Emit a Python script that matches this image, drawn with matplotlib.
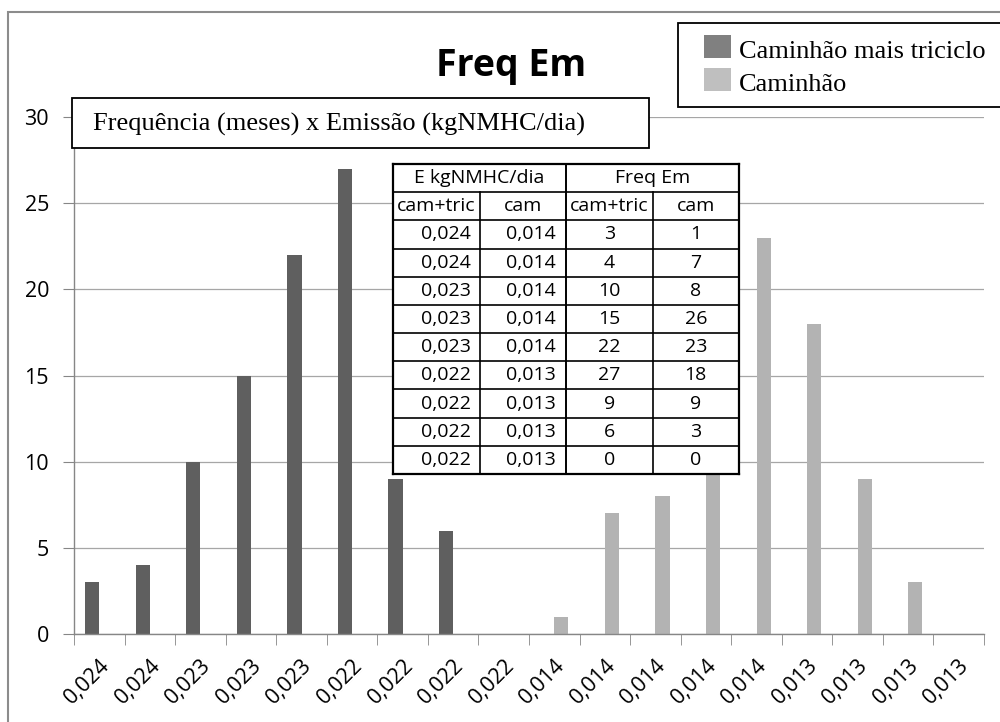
import matplotlib.pyplot as plt
from matplotlib.patches import Rectangle

# data (and its embedded table)
emis_camtric = ["0,024", "0,024", "0,023", "0,023", "0,023", "0,022", "0,022", "0,022", "0,022"]
emis_cam = ["0,014", "0,014", "0,014", "0,014", "0,014", "0,013", "0,013", "0,013", "0,013"]
freq_camtric = [3, 4, 10, 15, 22, 27, 9, 6, 0]
freq_cam = [1, 7, 8, 26, 23, 18, 9, 3, 0]
series_names = ["Caminhão mais triciclo", "Caminhão"]

x_labels = emis_camtric + emis_cam

W, H = 1000, 722


def fx(px):
    return px / W


def fy(py):
    return 1 - py / H


fig = plt.figure(figsize=(W / 100, H / 100), dpi=100)
fig.patch.set_facecolor("white")

# main plot area
ax = fig.add_axes([fx(74), fy(634), fx(984) - fx(74), fy(117) - fy(634)])
n = len(x_labels)
dark_x = [i - 0.14 for i in range(len(freq_camtric))]
light_x = [len(freq_camtric) + i + 0.14 for i in range(len(freq_cam))]
ax.bar(dark_x, freq_camtric, width=0.28, color="#5f5f5f", zorder=2)
ax.bar(light_x, freq_cam, width=0.28, color="#b3b3b3", zorder=2)

ax.set_xlim(-0.5, n - 0.5)
ax.set_ylim(0, 30)
ax.set_yticks(range(0, 31, 5))
ax.set_xticks(range(n))
ax.set_xticklabels(x_labels, rotation=45, ha="right", rotation_mode="anchor",
                   fontsize=15.5, family="Open Sans")
ax.set_xticks([i - 0.5 for i in range(n + 1)], minor=True)
ax.tick_params(axis="x", which="major", length=0, pad=15)
ax.tick_params(axis="x", which="minor", length=8, color="#868686", direction="out")
ax.tick_params(axis="y", length=8, color="#868686", direction="out", pad=10)
for lab in ax.get_yticklabels():
    lab.set_fontsize(15.5)
    lab.set_family("Open Sans")
ax.yaxis.grid(True, color="#a6a6a6", lw=0.9)
ax.set_axisbelow(True)
for s in ["top", "right"]:
    ax.spines[s].set_visible(False)
for s in ["left", "bottom"]:
    ax.spines[s].set_color("#868686")
    ax.spines[s].set_linewidth(1.0)

# outer chart border (cut off at right/bottom)
fig.patches.append(Rectangle((fx(8), fy(730)), fx(1010) - fx(8), fy(12) - fy(730),
                             transform=fig.transFigure, fill=False,
                             edgecolor="#8c8c8c", lw=1.5, clip_on=False))

# title
fig.text(fx(511), fy(76), "Freq Em", ha="center", va="baseline",
         fontsize=27, fontweight="bold", family="Open Sans")

# subtitle box
fig.patches.append(Rectangle((fx(72), fy(148)), fx(649) - fx(72), fy(98) - fy(148),
                             transform=fig.transFigure, facecolor="white",
                             edgecolor="black", lw=1.3, zorder=2))
fig.text(fx(93), fy(131), "Frequência (meses) x Emissão (kgNMHC/dia)",
         ha="left", va="baseline", fontsize=19, family="Liberation Serif", zorder=3)

# legend box
fig.patches.append(Rectangle((fx(678), fy(107)), fx(1010) - fx(678), fy(23) - fy(107),
                             transform=fig.transFigure, facecolor="white",
                             edgecolor="black", lw=1.3, zorder=2, clip_on=False))
leg_colors = ["#808080", "#bfbfbf"]
leg_base = [58, 91]
for name, col, yb in zip(series_names, leg_colors, leg_base):
    fig.patches.append(Rectangle((fx(704), fy(yb)), fx(731) - fx(704), fy(yb - 23) - fy(yb),
                                 transform=fig.transFigure, facecolor=col,
                                 edgecolor="none", zorder=3))
    fig.text(fx(739), fy(yb), name, ha="left", va="baseline",
             fontsize=19, family="Liberation Serif", zorder=4)

# embedded table
tab = fig.add_axes([fx(393), fy(474), fx(739) - fx(393), fy(164) - fy(474)], zorder=3)
nrows = 2 + len(freq_camtric)
tab.set_xlim(0, 4)
tab.set_ylim(nrows, 0)
tab.set_xticks([])
tab.set_yticks([])
tab.set_facecolor("white")
for s in tab.spines.values():
    s.set_color("black")
    s.set_linewidth(1.6)
for r in range(1, nrows):
    tab.plot([0, 4], [r, r], color="black", lw=1.2)
tab.plot([2, 2], [0, nrows], color="black", lw=1.4)
for c in [1, 3]:
    tab.plot([c, c], [1, nrows], color="black", lw=1.2)
tfont = dict(fontsize=14, family="Open Sans", va="center")
tab.text(1, 0.5, "E kgNMHC/dia", ha="center", **tfont)
tab.text(3, 0.5, "Freq Em", ha="center", **tfont)
for c, h in enumerate(["cam+tric", "cam", "cam+tric", "cam"]):
    tab.text(c + 0.5, 1.5, h, ha="center", **tfont)
for i in range(len(freq_camtric)):
    y = 2.5 + i
    tab.text(0.9, y, emis_camtric[i], ha="right", **tfont)
    tab.text(1.88, y, emis_cam[i], ha="right", **tfont)
    tab.text(2.5, y, str(freq_camtric[i]), ha="center", **tfont)
    tab.text(3.5, y, str(freq_cam[i]), ha="center", **tfont)

fig.savefig("out.png", dpi=100)
